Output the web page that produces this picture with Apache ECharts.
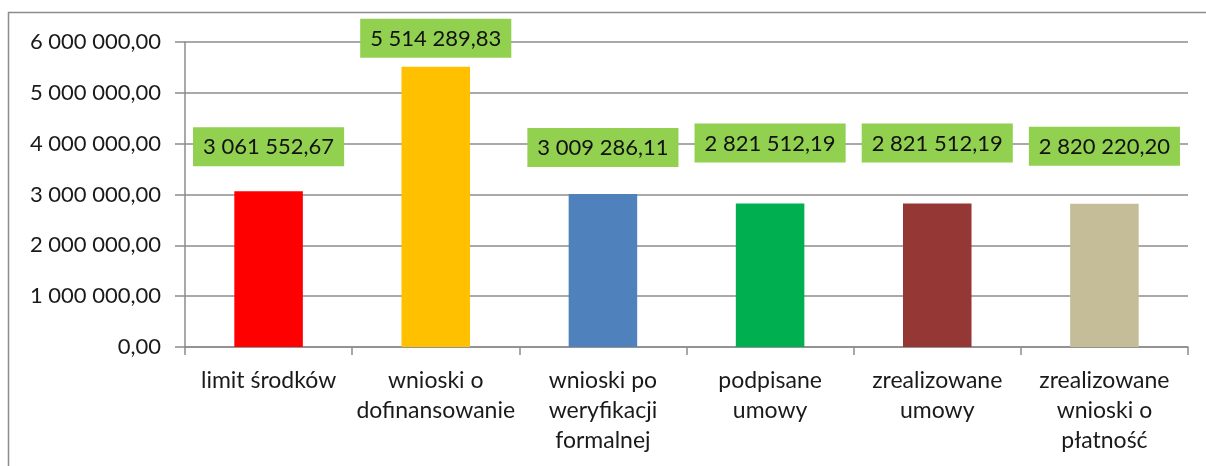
<!DOCTYPE html>
<html>
<head>
	<meta charset="UTF-8">
	<title>Wykres</title>
	<script src="https://cdn.jsdelivr.net/npm/echarts@6/dist/echarts.min.js"></script>
	<style>
		body { margin: 0; background: #fff; }
		#main { width: 1206px; height: 466px; }
	</style>
</head>
<body>
<div id="main"></div>
<script type="text/javascript">
	// dane
	var categories = ['limit środków', 'wnioski o\ndofinansowanie', 'wnioski po\nweryfikacji\nformalnej',
		'podpisane\numowy', 'zrealizowane\numowy', 'zrealizowane\nwnioski o\npłatność'];
	var values = [3061552.67, 5514289.83, 3009286.11, 2821512.19, 2821512.19, 2820220.20];
	var barColors = ['#FF0000', '#FFC000', '#4F81BD', '#00B050', '#953735', '#C4BD97'];
	// odstep etykiety nad slupkiem (styl)
	var labelGap = [25, 9, 27, 41, 41, 38];

	function fmt(v, dec) {
		var parts = v.toFixed(dec).split('.');
		var s = parts[0].replace(/\B(?=(\d{3})+(?!\d))/g, ' ');
		return s + ',' + parts[1];
	}

	var myChart = echarts.init(document.getElementById('main'));
	var font = 'Lato, "Open Sans", sans-serif';

	var option = {
		animation: false,
		graphic: [{
			type: 'polyline',
			shape: { points: [[8.5, 470], [8.5, 12.5], [1210, 12.5]] },
			style: { stroke: '#8c8c8c', lineWidth: 1.5, fill: null }
		}],
		grid: { left: 185, right: 18, top: 42, bottom: 119 },
		xAxis: {
			type: 'category',
			data: categories,
			axisLine: { lineStyle: { color: '#8c8c8c', width: 1.5 } },
			axisTick: { show: true, length: 8, lineStyle: { color: '#8c8c8c', width: 1.5 } },
			axisLabel: {
				color: '#1a1a1a', fontFamily: font, fontSize: 23,
				lineHeight: 30, margin: 19, interval: 0
			}
		},
		yAxis: {
			type: 'value',
			min: 0, max: 6000000, interval: 1000000,
			axisLine: { show: true, lineStyle: { color: '#8c8c8c', width: 1.5 } },
			axisTick: { show: true, length: 10, lineStyle: { color: '#8c8c8c', width: 1.5 } },
			splitLine: { lineStyle: { color: '#8c8c8c', width: 1.5 } },
			axisLabel: {
				color: '#1a1a1a', fontFamily: font, fontSize: 22, margin: 24,
				formatter: function (v) { return fmt(v, 2); }
			}
		},
		series: [{
			type: 'bar',
			barWidth: '41%',
			data: values.map(function (v, i) {
				return {
					value: v,
					itemStyle: { color: barColors[i] },
					label: { distance: labelGap[i] }
				};
			}),
			label: {
				show: true,
				position: 'top',
				backgroundColor: '#92D050',
				padding: [9, 10, 8, 10],
				color: '#111',
				fontFamily: font,
				fontSize: 22,
				formatter: function (p) { return fmt(p.value, 2); }
			}
		}]
	};
	myChart.setOption(option, true);
</script>
</body>
</html>
